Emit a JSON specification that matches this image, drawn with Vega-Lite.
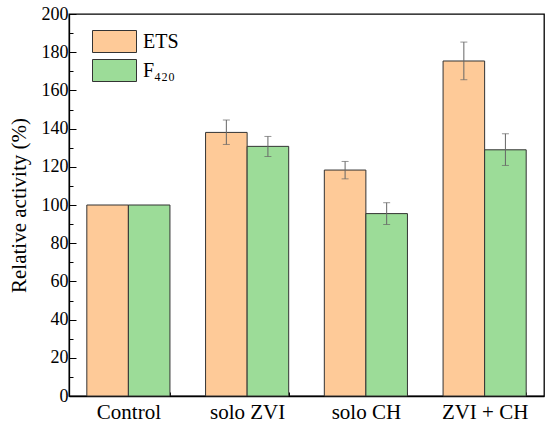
{
  "$schema": "https://vega.github.io/schema/vega-lite/v6.json",
  "width": 475,
  "height": 382,
  "autosize": {"type": "none"},
  "padding": {"left": 69, "top": 14, "right": 6, "bottom": 33},
  "data": {
    "values": [
      {"group": "Control", "series": "ETS", "value": 100},
      {"group": "Control", "series": "F₄₂₀", "value": 100},
      {"group": "solo ZVI", "series": "ETS", "value": 138.0, "lo": 131.7, "hi": 144.5},
      {"group": "solo ZVI", "series": "F₄₂₀", "value": 130.7, "lo": 125.4, "hi": 135.9},
      {"group": "solo CH", "series": "ETS", "value": 118.3, "lo": 113.7, "hi": 122.8},
      {"group": "solo CH", "series": "F₄₂₀", "value": 95.5, "lo": 89.8, "hi": 101.2},
      {"group": "ZVI + CH", "series": "ETS", "value": 175.4, "lo": 165.6, "hi": 185.3},
      {"group": "ZVI + CH", "series": "F₄₂₀", "value": 128.9, "lo": 120.7, "hi": 137.3}
    ]
  },
  "encoding": {
    "x": {
      "field": "group",
      "type": "nominal",
      "sort": ["Control", "solo ZVI", "solo CH", "ZVI + CH"],
      "scale": {"paddingInner": 0.3, "paddingOuter": 0.15},
      "title": null,
      "axis": {
        "labelAngle": 0,
        "labelFontSize": 21,
        "labelPadding": 9,
        "tickBand": "extent",
        "tickSize": -4,
        "tickColor": "black",
        "domainColor": "black",
        "domainWidth": 1.3
      }
    },
    "xOffset": {"field": "series", "sort": ["ETS", "F₄₂₀"]}
  },
  "resolve": {"axis": {"y": "independent"}},
  "layer": [
    {
      "mark": {"type": "bar", "stroke": "#333333", "strokeWidth": 1},
      "encoding": {
        "y": {
          "field": "value",
          "type": "quantitative",
          "scale": {"domain": [0, 200]},
          "title": "Relative activity (%)",
          "axis": {
            "values": [0, 10, 20, 30, 40, 50, 60, 70, 80, 90, 100, 110, 120, 130, 140, 150, 160, 170, 180, 190, 200],
            "labelExpr": "datum.value % 20 === 0 ? datum.label : ''",
            "labelOverlap": false,
            "tickSize": {"condition": {"test": "datum.value % 20 === 0", "value": -7}, "value": -4},
            "labelFontSize": 18,
            "labelPadding": 8,
            "titleFontSize": 21,
            "titleFontWeight": "normal",
            "titlePadding": 12,
            "grid": false,
            "tickColor": "black",
            "domainColor": "black",
            "domainWidth": 1.3
          }
        },
        "fill": {
          "field": "series",
          "type": "nominal",
          "scale": {"domain": ["ETS", "F₄₂₀"], "range": ["#FECA98", "#9CDC98"]},
          "legend": {
            "orient": "none",
            "legendX": 34,
            "legendY": 16,
            "title": null,
            "padding": 0,
            "symbolType": "M-2,-1H2V1H-2Z",
            "symbolSize": 484,
            "symbolStrokeColor": "#333333",
            "symbolStrokeWidth": 1,
            "labelFontSize": 20,
            "labelOffset": 17,
            "rowPadding": 2
          }
        }
      }
    },
    {
      "transform": [{"filter": "isValid(datum.lo)"}],
      "mark": {"type": "rule", "color": "#666666", "strokeWidth": 1},
      "encoding": {
        "y": {"field": "lo", "type": "quantitative", "axis": null},
        "y2": {"field": "hi"}
      }
    },
    {
      "transform": [{"filter": "isValid(datum.lo)"}],
      "mark": {"type": "tick", "color": "#666666", "size": 7, "thickness": 1},
      "encoding": {
        "y": {"field": "lo", "type": "quantitative", "axis": null}
      }
    },
    {
      "transform": [{"filter": "isValid(datum.hi)"}],
      "mark": {"type": "tick", "color": "#666666", "size": 7, "thickness": 1},
      "encoding": {
        "y": {"field": "hi", "type": "quantitative", "axis": null}
      }
    }
  ],
  "config": {
    "font": "Liberation Serif",
    "view": {"stroke": "black", "strokeWidth": 1.3},
    "axis": {"labelColor": "black", "titleColor": "black", "labelFont": "Liberation Serif", "titleFont": "Liberation Serif"},
    "legend": {"labelColor": "black", "labelFont": "Liberation Serif"}
  }
}
